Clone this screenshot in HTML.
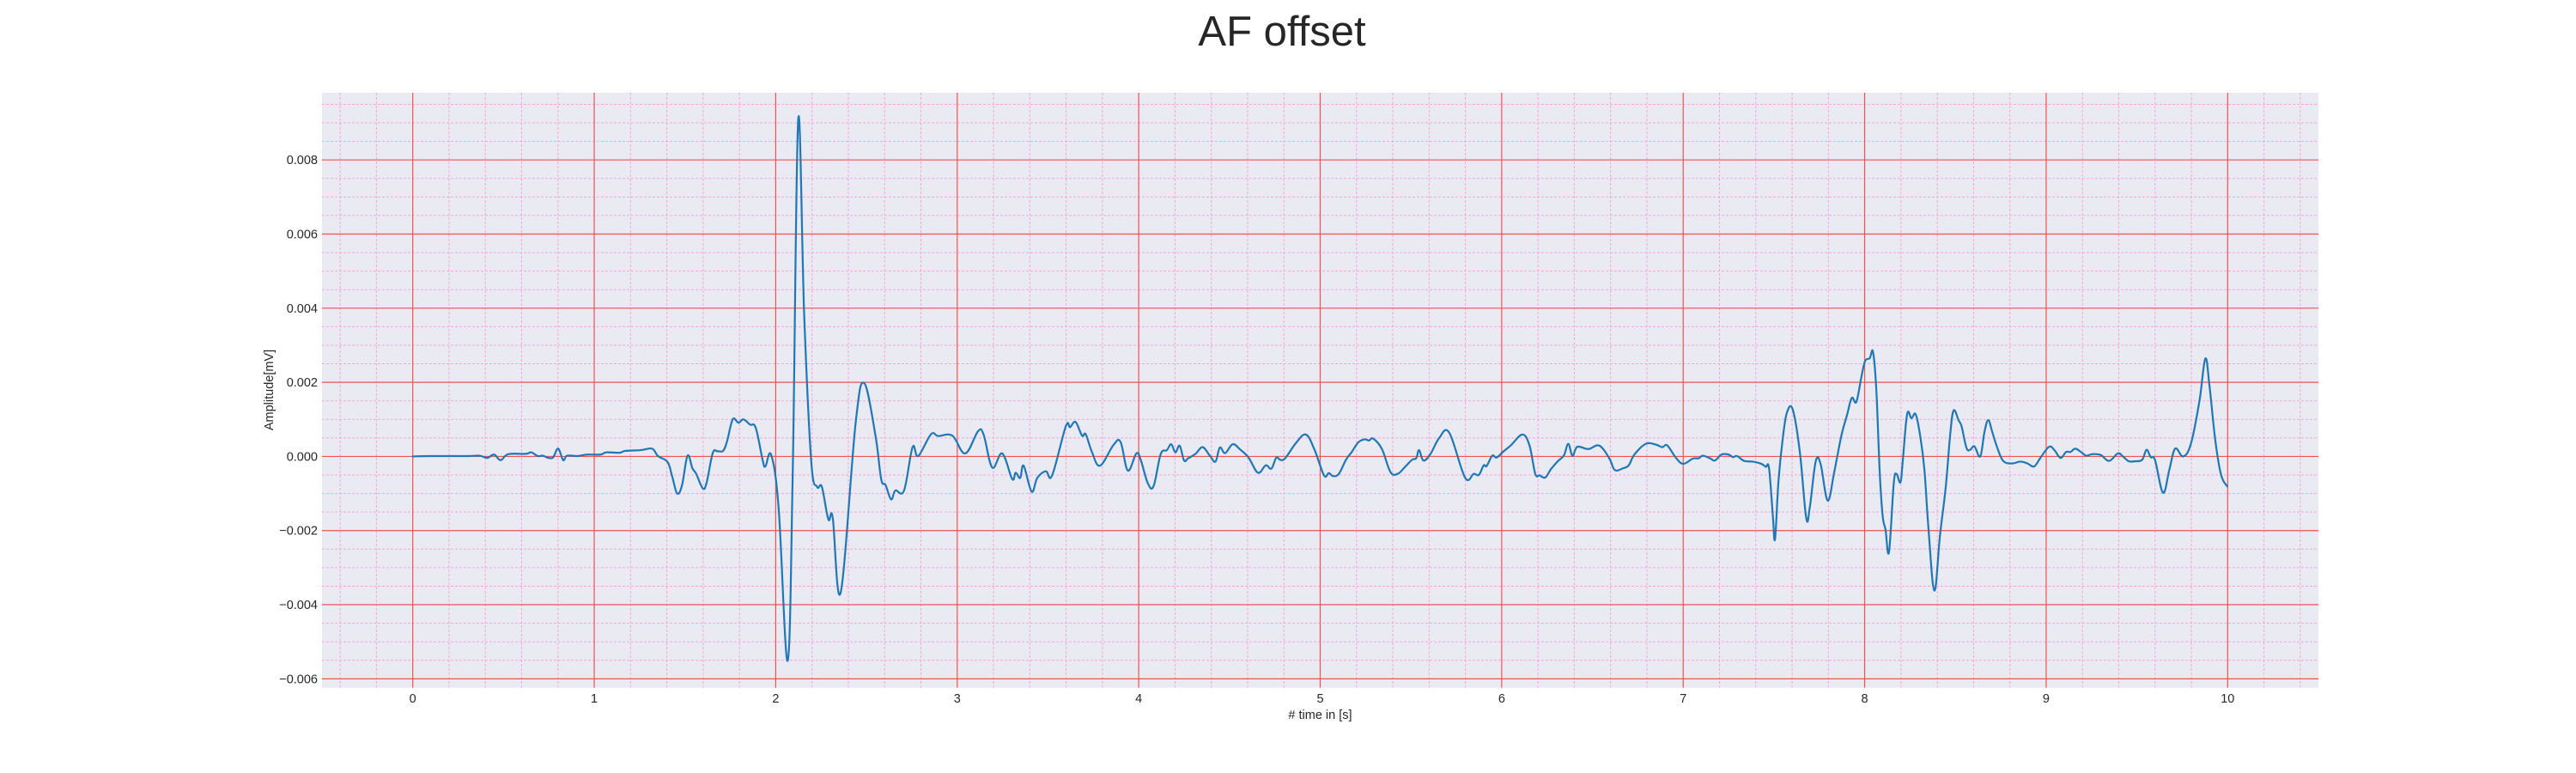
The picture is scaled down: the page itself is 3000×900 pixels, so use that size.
<!DOCTYPE html>
<html><head><meta charset="utf-8"><style>
html,body{margin:0;padding:0;background:#fff;width:3000px;height:900px;overflow:hidden}
svg text{font-family:"Liberation Sans",Arial,sans-serif;fill:#262626}
</style></head><body>
<svg id="chart" width="3000" height="900" viewBox="0 0 3000 900" xmlns="http://www.w3.org/2000/svg">
<text x="1493" y="53" font-size="49" text-anchor="middle">AF offset</text>
<rect x="375" y="108" width="2325" height="692.7" fill="#eaeaf2"/>
<g id="grid-minor"></g>
<g id="grid-major"></g>
<g id="series"></g>
<g id="xticks"></g>
<g id="yticks"></g>
<text x="1537.5" y="837" font-size="14.5" text-anchor="middle"># time in [s]</text>
<text transform="translate(318,454) rotate(-90)" font-size="14.5" text-anchor="middle">Amplitude[mV]</text>
</svg>
<script>
const times = [0,0.093,0.304,0.368,0.41,0.448,0.484,0.526,0.622,0.653,0.689,0.717,0.748,0.774,0.801,0.829,0.85,0.907,0.96,1.034,1.066,1.14,1.171,1.256,1.319,1.351,1.404,1.429,1.457,1.484,1.514,1.541,1.562,1.598,1.619,1.653,1.679,1.71,1.732,1.763,1.795,1.822,1.858,1.89,1.928,1.943,1.975,
2.016,2.066,2.094,2.124,2.157,2.196,2.228,2.254,2.29,2.314,2.358,2.44,2.487,2.549,2.581,2.605,2.636,2.659,2.707,2.754,2.785,2.856,2.895,2.973,3.044,3.115,3.146,3.193,3.248,3.303,3.322,3.347,3.366,3.41,3.441,3.488,3.523,3.598,3.622,3.652,3.688,3.708,3.743,3.787,3.861,3.9,3.94,3.987,4.011,4.05,4.082,4.121,4.155,4.179,4.202,4.226,4.25,4.273,4.313,4.352,4.392,4.423,4.447,4.476,4.518,4.558,4.605,4.657,4.7,4.731,4.758,4.779,4.807,4.866,4.921,4.968,5.021,5.047,5.071,5.103,5.142,5.174,5.21,5.245,5.269,5.292,5.34,5.387,5.427,5.466,5.506,5.529,5.545,5.569,5.608,5.656,5.711,5.798,5.846,5.874,5.901,5.917,5.948,5.972,6.011,6.051,6.114,6.153,6.185,6.209,6.24,6.272,6.311,6.343,6.367,6.39,6.417,6.477,6.527,6.559,6.597,6.624,6.668,6.7,6.731,6.794,6.849,6.885,6.912,6.959,7,7.053,7.085,7.108,7.148,7.175,7.211,7.25,7.274,7.297,7.336,7.384,7.431,7.455,7.473,7.494,7.506,7.525,7.549,7.572,7.604,7.643,7.678,7.698,7.73,7.757,7.796,7.832,7.872,7.903,7.929,7.954,7.981,8.002,8.028,8.046,8.064,8.083,8.099,8.115,8.134,8.16,8.175,8.197,8.21,8.234,8.258,8.281,8.305,8.329,8.352,8.384,8.415,8.447,8.471,8.49,8.518,8.534,8.561,8.581,8.605,8.637,8.66,8.681,8.703,8.731,8.763,8.81,8.858,8.897,8.934,8.968,9.016,9.047,9.079,9.11,9.134,9.161,9.197,9.221,9.253,9.3,9.347,9.395,9.423,9.455,9.49,9.529,9.553,9.576,9.6,9.644,9.679,9.711,9.755,9.798,9.845,9.877,9.9,9.932,9.964,9.998];
const amplitudes = [0,0.00001,0.00001,0.00002,-0.00004,0.00005,-0.0001,0.00006,0.00007,0.00011,0.00001,0.00002,-0.00004,-0.00002,0.00021,-0.0001,0.00002,0.00001,0.00005,0.00005,0.00011,0.0001,0.00015,0.00017,0.00021,0.00001,-0.00015,-0.00053,-0.001,-0.00077,0.00002,-0.00032,-0.00047,-0.00086,-0.00071,0.00009,0.00014,0.00015,0.00041,0.001,0.00091,0.001,0.00086,0.00077,-0.0001,-0.00027,0.00004,
-0.00139,-0.00551,-0.00035,0.0091,0.0038,-0.00015,-0.00082,-0.00082,-0.0017,-0.00165,-0.00367,0.00089,0.00198,0.00058,-0.00061,-0.00077,-0.00116,-0.00092,-0.00092,0.00025,0.00001,0.0006,0.00055,0.00056,0.00008,0.00068,0.00058,-0.0003,0.00008,-0.00061,-0.00044,-0.00058,-0.00025,-0.00095,-0.00058,-0.0004,-0.00051,0.00081,0.00079,0.00093,0.00056,0.0006,0.00011,-0.00025,0.00031,0.00039,-0.00038,0.00008,-0.00009,-0.00072,-0.0008,0.00006,0.00017,0.00033,0.00011,0.00029,-0.00011,-0.00005,0.00007,0.00025,0.00002,-0.00014,0.00024,0.00009,0.00033,0.00019,-0.00003,-0.00044,-0.00024,-0.00033,-0.00003,-0.00009,-0.00005,0.00036,0.00059,0.00019,-0.00051,-0.00045,-0.00053,-0.00047,-0.00009,0.00012,0.00038,0.00046,0.00043,0.00048,0.0002,-0.00042,-0.00047,-0.00029,-0.00009,-0.00005,0.00017,-0.00011,0.00007,0.0005,0.00064,-0.00057,-0.00047,-0.0005,-0.00024,-0.00026,0.00002,-0.00003,0.00014,0.0003,0.00059,0.0003,-0.00047,-0.00051,-0.00057,-0.00034,-0.00012,0.00003,0.00034,0.00002,0.00026,0.0002,0.0003,0.0002,-0.00009,-0.00037,-0.00032,-0.00024,0.00005,0.00034,0.00032,0.00025,0.0003,-0.00003,-0.0002,-0.00006,-0.00005,0.00002,-0.00005,-0.00011,0.00005,0.00005,-0.00002,0.00001,-0.00012,-0.00014,-0.0002,-0.00028,-0.00032,-0.0016,-0.00223,-0.00067,0.0005,0.00119,0.00126,0.00011,-0.00166,-0.00136,-0.00014,-0.0002,-0.00119,-0.00043,0.00057,0.00112,0.00158,0.00147,0.00212,0.00257,0.00265,0.00282,0.00181,-0.00043,-0.0016,-0.00198,-0.00258,-0.00074,-0.00047,-0.0007,-0.00012,0.00114,0.00103,0.00114,0.00058,-0.00035,-0.00198,-0.00362,-0.00213,-0.00081,0.00058,0.00124,0.00097,0.00081,0.00023,0.00018,0.00027,0,0.00066,0.00098,0.00066,0.00023,-0.00012,-0.00019,-0.00014,-0.00019,-0.00027,-0.00004,0.00026,0.00016,-0.00004,0.00012,0.00012,0.00021,0.0001,0.00002,0.00006,0.00004,-0.00012,0.00008,0,-0.00013,-0.00013,-0.00009,0.00018,-0.00002,-0.0001,-0.00098,-0.00035,0.00021,0,0.00035,0.00151,0.00264,0.0019,0.00043,-0.0005,-0.00081];
const xTickValues = [0,1,2,3,4,5,6,7,8,9,10];
const xTickLabels = ["0","1","2","3","4","5","6","7","8","9","10"];
const yTickValues = [-0.006,-0.004,-0.002,0,0.002,0.004,0.006,0.008];
const yTickLabels = ["\u22120.006","\u22120.004","\u22120.002","0.000","0.002","0.004","0.006","0.008"];

const NS="http://www.w3.org/2000/svg";
const PL=375, PR=2700, PT=108, PB=800.7;
const X0=-0.5, X1=10.5, Y0=-0.00624, Y1=0.009812;
function xs(t){return PL+(t-X0)/(X1-X0)*(PR-PL);}
function ys(v){return PB-(v-Y0)/(Y1-Y0)*(PB-PT);}
function mk(tag,attrs,parent){const e=document.createElementNS(NS,tag);for(const k in attrs)e.setAttribute(k,attrs[k]);parent.appendChild(e);return e;}

const gMin=document.getElementById('grid-minor'), gMaj=document.getElementById('grid-major');
for(let i=-2;i<=52;i++){const t=i*0.2; if(t<X0||t>X1) continue; if(i%5===0) continue;
  const l=mk('line',{x1:xs(t),x2:xs(t),y1:PT,y2:PB,stroke:'#f2a6dc','stroke-width':1,'stroke-dasharray':'3,2'},gMin);
  
  }
for(let i=-13;i<=20;i++){const v=i*0.0005; if(v<Y0||v>Y1) continue; if(i%4===0) continue;
  const l=mk('line',{x1:PL,x2:PR,y1:ys(v),y2:ys(v),stroke:'#f2a6dc','stroke-width':1,'stroke-dasharray':'3,2'},gMin);
  
  }
xTickValues.forEach((t,i)=>{
  const l=mk('line',{x1:xs(t),x2:xs(t),y1:PT,y2:PB,stroke:'#ee5252','stroke-width':1.2},gMaj);
  
  
  const tx=mk('text',{x:xs(t),y:818,'font-size':14.5,'text-anchor':'middle'},document.getElementById('xticks'));
  tx.textContent=xTickLabels[i];
  
  
});
yTickValues.forEach((v,i)=>{
  const l=mk('line',{x1:PL,x2:PR,y1:ys(v),y2:ys(v),stroke:'#ee5252','stroke-width':1.2},gMaj);
  
  
  const tx=mk('text',{x:370,y:ys(v)+5,'font-size':14.5,'text-anchor':'end'},document.getElementById('yticks'));
  tx.textContent=yTickLabels[i];
  
  
});
// smooth path (Catmull-Rom -> cubic Bezier)
const P=times.map((t,i)=>[xs(t),ys(amplitudes[i])]);
let d='M'+P[0][0].toFixed(2)+','+P[0][1].toFixed(2);
const k=0.18;
for(let i=0;i<P.length-1;i++){
  const p0=P[Math.max(0,i-1)],p1=P[i],p2=P[i+1],p3=P[Math.min(P.length-1,i+2)];
  const c1x=p1[0]+(p2[0]-p0[0])*k, c1y=p1[1]+(p2[1]-p0[1])*k;
  const c2x=p2[0]-(p3[0]-p1[0])*k, c2y=p2[1]-(p3[1]-p1[1])*k;
  d+='C'+c1x.toFixed(2)+','+c1y.toFixed(2)+' '+c2x.toFixed(2)+','+c2y.toFixed(2)+' '+p2[0].toFixed(2)+','+p2[1].toFixed(2);
}
const p=mk('path',{d:d,fill:'none',stroke:'#1f77b4','stroke-width':2.2,'stroke-linejoin':'round','stroke-linecap':'round'},document.getElementById('series'));


</script>
</body></html>
